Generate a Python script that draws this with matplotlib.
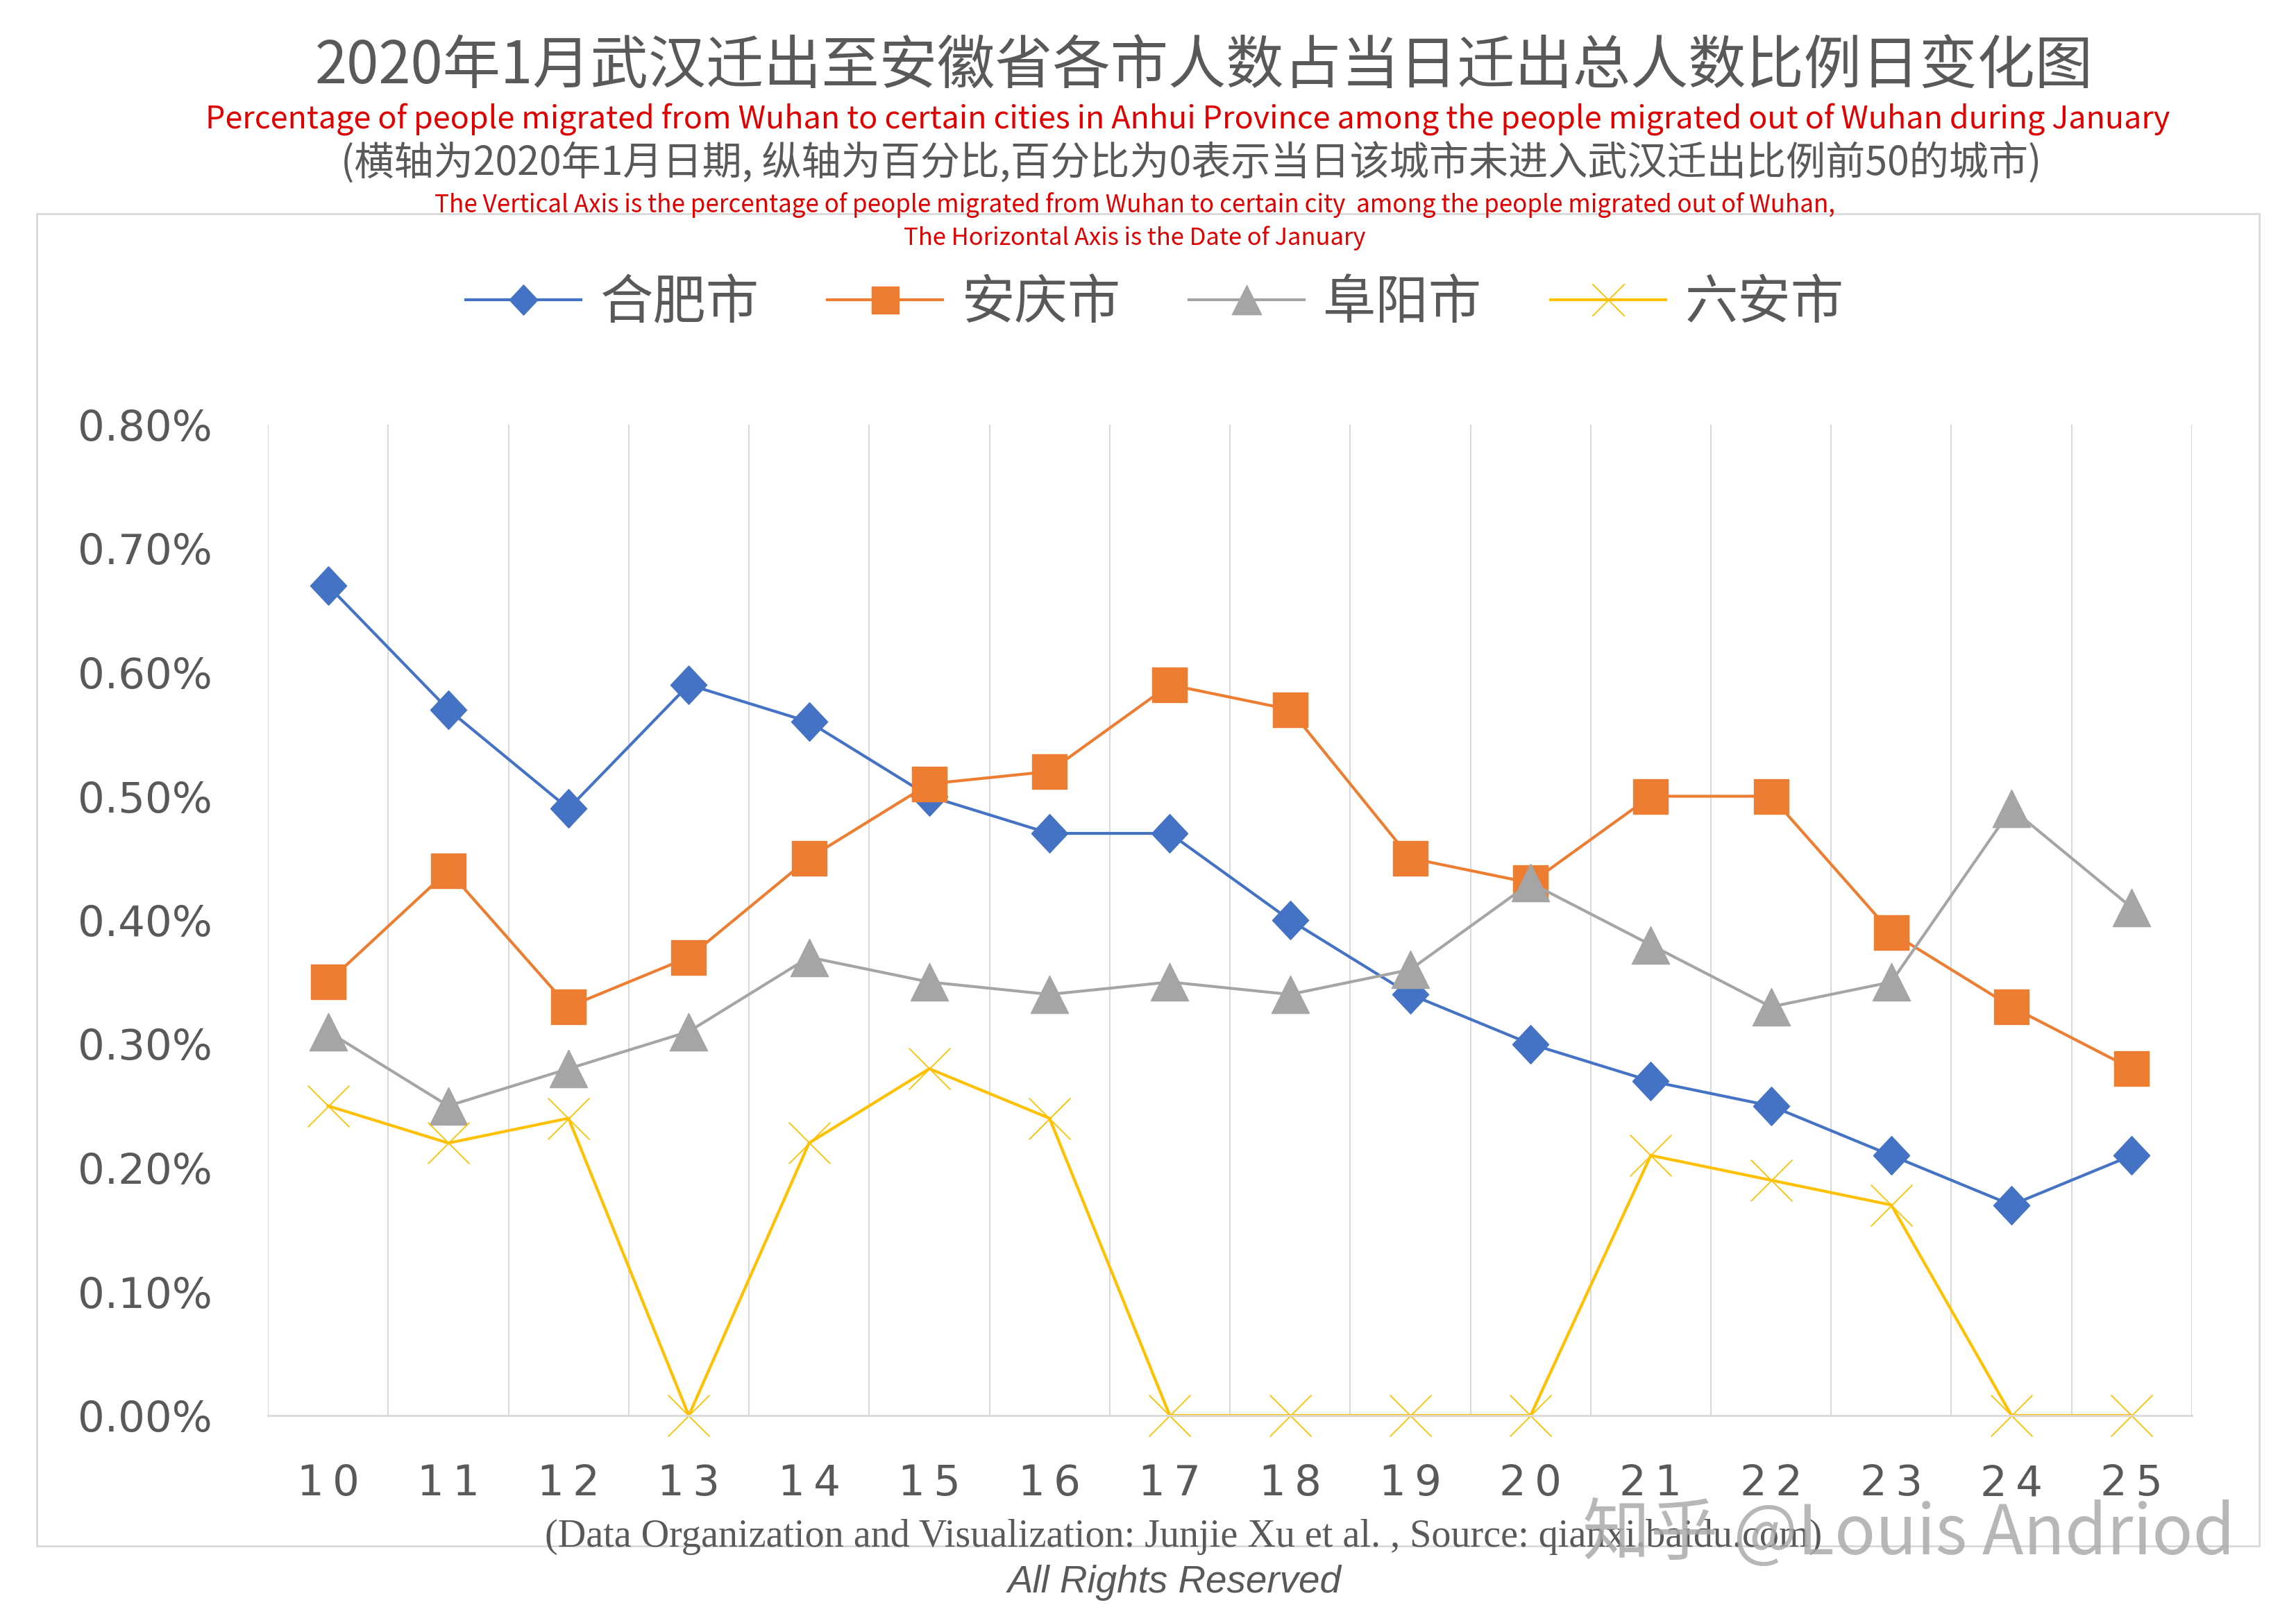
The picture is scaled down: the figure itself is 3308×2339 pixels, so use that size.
import numpy as np
import matplotlib
matplotlib.use("Agg")
import matplotlib.pyplot as plt
from matplotlib.path import Path
from matplotlib.ticker import FuncFormatter
from matplotlib.patches import Rectangle

# ---------------- data ----------------
dates = ['10', '11', '12', '13', '14', '15', '16', '17', '18', '19', '20', '21', '22', '23', '24', '25']
series_names = ['合肥市', '安庆市', '阜阳市', '六安市']
hefei = [0.67, 0.57, 0.49, 0.59, 0.56, 0.50, 0.47, 0.47, 0.40, 0.34, 0.30, 0.27, 0.25, 0.21, 0.17, 0.21]
anqing = [0.35, 0.44, 0.33, 0.37, 0.45, 0.51, 0.52, 0.59, 0.57, 0.45, 0.43, 0.50, 0.50, 0.39, 0.33, 0.28]
fuyang = [0.31, 0.25, 0.28, 0.31, 0.37, 0.35, 0.34, 0.35, 0.34, 0.36, 0.43, 0.38, 0.33, 0.35, 0.49, 0.41]
luan = [0.25, 0.22, 0.24, 0.00, 0.22, 0.28, 0.24, 0.00, 0.00, 0.00, 0.00, 0.21, 0.19, 0.17, 0.00, 0.00]

title_cn = '2020年1月武汉迁出至安徽省各市人数占当日迁出总人数比例日变化图'
title_en = ('Percentage of people migrated from Wuhan to certain cities in Anhui Province '
            'among the people migrated out of Wuhan during January')
note_cn = '(横轴为2020年1月日期, 纵轴为百分比,百分比为0表示当日该城市未进入武汉迁出比例前50的城市)'
note_en1 = ('The Vertical Axis is the percentage of people migrated from Wuhan to certain city  '
            'among the people migrated out of Wuhan,')
note_en2 = 'The Horizontal Axis is the Date of January'
footer1 = '(Data Organization and Visualization: Junjie Xu et al. , Source: qianxi.baidu.com)'
footer2 = 'All Rights Reserved'
watermark = '知乎 @Louis Andriod'

# ---------------- style ----------------
W, H = 3308, 2339
CJK = ['Noto Sans CJK SC', 'DejaVu Sans']
GRAY_TXT = '#595959'
RED = '#E00000'
GRID = '#D9D9D9'
colors = ['#4472C4', '#ED7D31', '#A5A5A5', '#FFC000']

plt.rcParams['font.family'] = ['DejaVu Sans']

diamond = Path([(0, 0.5), (0.47, 0), (0, -0.5), (-0.47, 0), (0, 0.5)],
               [Path.MOVETO, Path.LINETO, Path.LINETO, Path.LINETO, Path.CLOSEPOLY])
square = Path([(-0.5, -0.5), (0.5, -0.5), (0.5, 0.5), (-0.5, 0.5), (-0.5, -0.5)],
              [Path.MOVETO, Path.LINETO, Path.LINETO, Path.LINETO, Path.CLOSEPOLY])
triangle = Path([(0, 0.5), (0.5, -0.5), (-0.5, -0.5), (0, 0.5)],
                [Path.MOVETO, Path.LINETO, Path.LINETO, Path.CLOSEPOLY])
cross = Path([(-0.5, -0.5), (0.5, 0.5), (-0.5, 0.5), (0.5, -0.5)],
             [Path.MOVETO, Path.LINETO, Path.MOVETO, Path.LINETO])

fig = plt.figure(figsize=(W / 100, H / 100), dpi=100)
fig.patch.set_facecolor('white')

# outer chart frame
fig.patches.append(Rectangle((53 / W, 1 - 2228 / H), (3255 - 53) / W, (2228 - 308) / H,
                             transform=fig.transFigure, fill=False, edgecolor=GRID,
                             linewidth=2.0, zorder=0))

ax = fig.add_axes([386 / W, 1 - 2040 / H, (3158 - 386) / W, (2040 - 612) / H])
x = np.arange(len(dates))

ax.plot(x, hefei, color=colors[0], lw=3.0, marker=diamond, ms=40, mec=colors[0],
        mfc=colors[0], label=series_names[0], clip_on=False)
ax.plot(x, anqing, color=colors[1], lw=3.0, marker=square, ms=36, mec=colors[1],
        mfc=colors[1], label=series_names[1], clip_on=False)
ax.plot(x, fuyang, color=colors[2], lw=3.0, marker=triangle, ms=39, mec=colors[2],
        mfc=colors[2], label=series_names[2], clip_on=False)
ax.plot(x, luan, color=colors[3], lw=3.0, marker=cross, ms=43, mec=colors[3],
        mew=1.3, label=series_names[3], clip_on=False)

ax.set_xlim(-0.5, len(dates) - 0.5)
ax.set_ylim(0, 0.8)
ax.set_yticks(np.arange(0, 0.81, 0.1))
ax.yaxis.set_major_formatter(FuncFormatter(lambda v, p: f'{v:.2f}%'))
ax.set_xticks(x)
ax.set_xticklabels(['\u2009'.join(d) for d in dates])
ax.set_xticks(np.arange(-0.5, len(dates), 1.0), minor=True)
ax.grid(which='minor', axis='x', color=GRID, lw=1.5)
ax.grid(which='major', visible=False)
ax.tick_params(axis='both', which='both', length=0)
ax.tick_params(axis='y', pad=58, labelsize=44, labelcolor=GRAY_TXT)
ax.tick_params(axis='x', pad=50, labelsize=44, labelcolor=GRAY_TXT)
for s in ['top', 'right', 'left']:
    ax.spines[s].set_visible(False)
ax.spines['bottom'].set_color(GRID)
ax.spines['bottom'].set_linewidth(2.0)
ax.set_axisbelow(True)

leg = fig.legend(loc='center', bbox_to_anchor=(0.503, 1 - 437 / H), ncol=4, frameon=False,
                 handlelength=2.17, handletextpad=0.36, columnspacing=1.29, numpoints=1,
                 markerscale=0.78, prop={'family': CJK, 'size': 55})
for t in leg.get_texts():
    t.set_color(GRAY_TXT)

renderer = fig.canvas.get_renderer()


def fit_text(xc, yc, s, target_px, size0, **kw):
    t = fig.text(xc / W, 1 - yc / H, s, fontsize=size0, ha='center', va='center', **kw)
    w = t.get_window_extent(renderer).width
    t.set_fontsize(size0 * target_px / w)
    return t


fit_text(1735, 96, title_cn, 2563, 60, family=CJK, weight='light', color=GRAY_TXT)
fit_text(1711, 172, title_en, 2831, 31, family=CJK, color=RED)
fit_text(1716, 236, note_cn, 2454, 41, family=CJK, weight='light', color=GRAY_TXT)
fit_text(1635, 296, note_en1, 2015, 23, family=CJK, color=RED)
fit_text(1635, 343, note_en2, 666, 23, family=CJK, color=RED)
fit_text(1705, 2215, footer1, 1842, 34, family=['Liberation Serif'], color=GRAY_TXT)
fit_text(1692, 2281, footer2, 481, 34, family=['Liberation Sans'], style='italic',
         color=GRAY_TXT)
fit_text(2750, 2212, watermark, 940, 64, family=CJK, color='#ABABAB', alpha=0.85)

fig.savefig('out.png', dpi=100, facecolor='white')
